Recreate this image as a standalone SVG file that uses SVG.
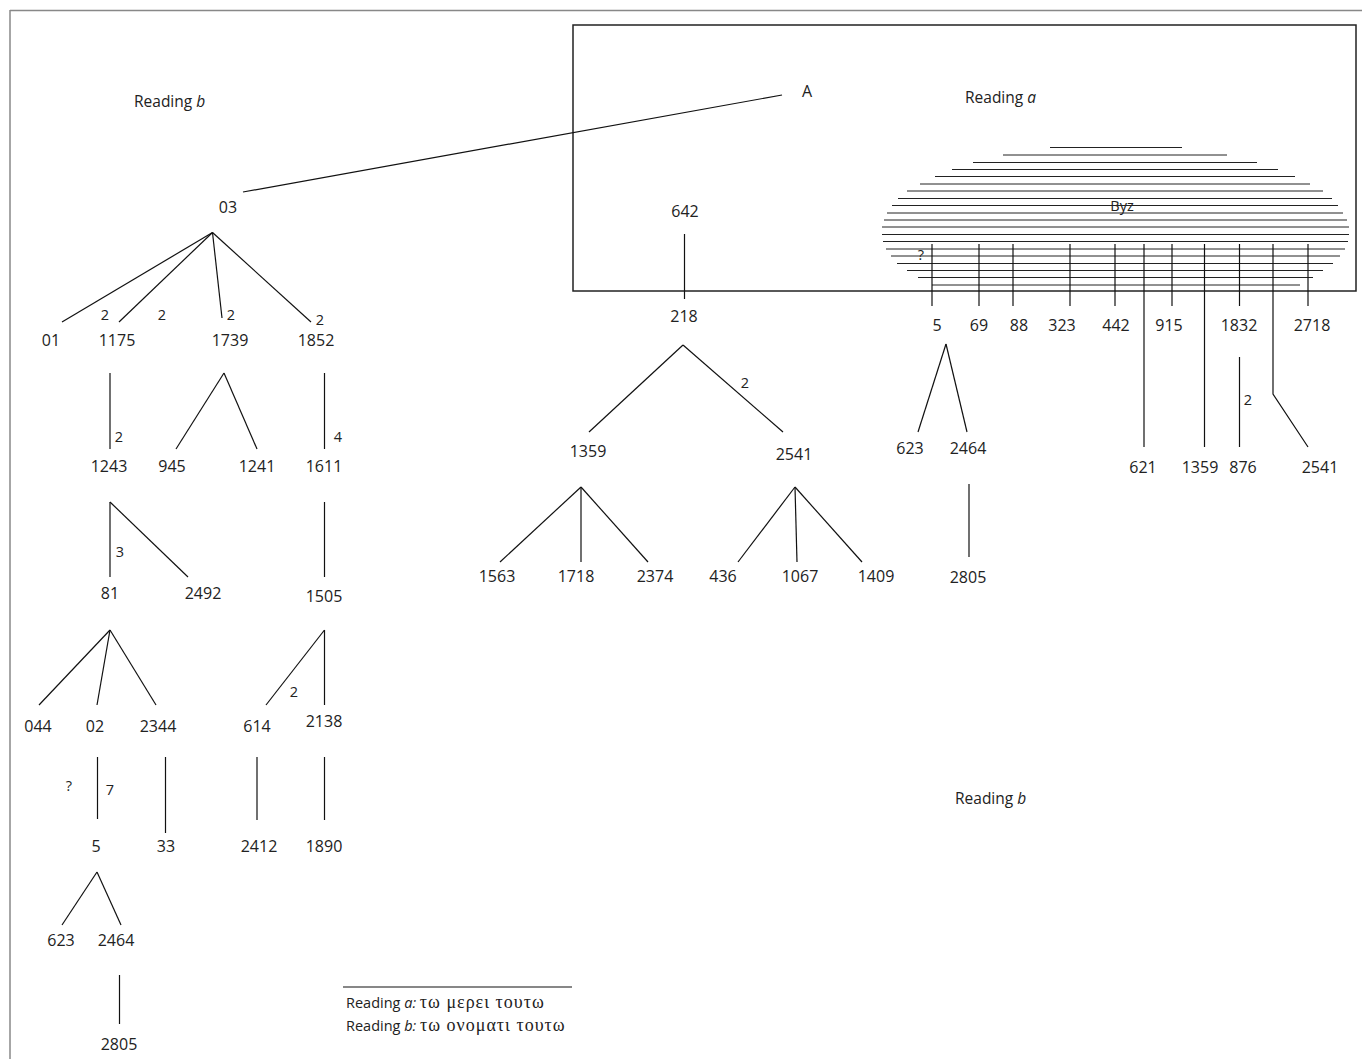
<svg xmlns="http://www.w3.org/2000/svg" width="1362" height="1059" viewBox="0 0 1362 1059">
<style>
  text { font-family: "Open Sans", "Liberation Sans", sans-serif; fill: #222; }
  .n { font-size: 16px; text-anchor: middle; }
  .e { font-size: 14.5px; text-anchor: middle; }
  .r { font-size: 15.5px; }
  .lg { font-size: 14.5px; }
  .gk { font-family: "Liberation Serif", "DejaVu Serif", serif; font-size: 18px; letter-spacing: 1px; }
  #connectors line, #connectors polyline { stroke: #111; stroke-width: 1.2; fill: none; }
  #hatch line { stroke: #222; stroke-width: 1; }
</style>
<rect width="1362" height="1059" fill="#fff"/>
<g id="frame">
  <line x1="10" y1="10.5" x2="1362" y2="10.5" stroke="#888" stroke-width="1.5"/>
  <line x1="10" y1="10" x2="10" y2="1059" stroke="#888" stroke-width="1.5"/>
  <rect x="573" y="25" width="783" height="266" fill="none" stroke="#222" stroke-width="1.5"/>
</g>
<g id="hatch">
  <line x1="1050" y1="147.5" x2="1182" y2="147.5"/>
  <line x1="1003" y1="155" x2="1227" y2="155"/>
  <line x1="973" y1="162.5" x2="1257" y2="162.5"/>
  <line x1="952" y1="169.5" x2="1278" y2="169.5"/>
  <line x1="935" y1="176.5" x2="1295" y2="176.5"/>
  <line x1="920" y1="184" x2="1310" y2="184"/>
  <line x1="907" y1="191" x2="1323" y2="191"/>
  <line x1="898" y1="198.5" x2="1332" y2="198.5"/>
  <line x1="892" y1="205.5" x2="1338" y2="205.5"/>
  <line x1="887" y1="213" x2="1343" y2="213"/>
  <line x1="884" y1="220" x2="1347" y2="220"/>
  <line x1="882" y1="227" x2="1349" y2="227"/>
  <line x1="882" y1="234.5" x2="1349" y2="234.5"/>
  <line x1="883" y1="241.5" x2="1348" y2="241.5"/>
  <line x1="886" y1="249" x2="1345" y2="249"/>
  <line x1="891" y1="256" x2="1340" y2="256"/>
  <line x1="897" y1="263.5" x2="1333" y2="263.5"/>
  <line x1="907" y1="270.5" x2="1323" y2="270.5"/>
  <line x1="918" y1="277.5" x2="1313" y2="277.5"/>
  <line x1="932" y1="285" x2="1300" y2="285"/>
</g>
<g id="connectors">
  <line x1="243" y1="192" x2="782" y2="95"/>
  <line x1="212.5" y1="232.5" x2="62" y2="322"/>
  <line x1="212.5" y1="232.5" x2="119" y2="322"/>
  <line x1="212.5" y1="232.5" x2="222" y2="318"/>
  <line x1="212.5" y1="232.5" x2="311" y2="322"/>
  <line x1="110" y1="373" x2="110" y2="449"/>
  <line x1="224" y1="373" x2="176" y2="449"/>
  <line x1="224" y1="373" x2="257" y2="449"/>
  <line x1="324.5" y1="373" x2="324.5" y2="449"/>
  <line x1="110" y1="502" x2="110" y2="577"/>
  <line x1="110" y1="502" x2="188" y2="577"/>
  <line x1="324.5" y1="502" x2="324.5" y2="577"/>
  <line x1="110" y1="630" x2="39" y2="705"/>
  <line x1="110" y1="630" x2="97" y2="705"/>
  <line x1="110" y1="630" x2="156" y2="705"/>
  <line x1="324.5" y1="630" x2="266" y2="705"/>
  <line x1="324.5" y1="630" x2="324.5" y2="705"/>
  <line x1="97.5" y1="757" x2="97.5" y2="819"/>
  <line x1="165.5" y1="757" x2="165.5" y2="833"/>
  <line x1="257" y1="757" x2="257" y2="820"/>
  <line x1="324.5" y1="757" x2="324.5" y2="820"/>
  <line x1="97" y1="872" x2="62" y2="925"/>
  <line x1="97" y1="872" x2="121" y2="925"/>
  <line x1="119.5" y1="975" x2="119.5" y2="1024"/>
  <line x1="684.5" y1="234" x2="684.5" y2="299"/>
  <line x1="683" y1="345" x2="589" y2="432"/>
  <line x1="683" y1="345" x2="783" y2="432"/>
  <line x1="581" y1="487" x2="500" y2="562"/>
  <line x1="581" y1="487" x2="581" y2="562"/>
  <line x1="581" y1="487" x2="648" y2="562"/>
  <line x1="795" y1="487" x2="738" y2="562"/>
  <line x1="795" y1="487" x2="797" y2="562"/>
  <line x1="795" y1="487" x2="862" y2="562"/>
  <line x1="932" y1="244" x2="932" y2="306"/>
  <line x1="979" y1="244" x2="979" y2="306"/>
  <line x1="1013" y1="244" x2="1013" y2="306"/>
  <line x1="1070" y1="244" x2="1070" y2="306"/>
  <line x1="1115" y1="244" x2="1115" y2="306"/>
  <line x1="1144" y1="244" x2="1144" y2="447"/>
  <line x1="1172" y1="244" x2="1172" y2="306"/>
  <line x1="1204.5" y1="244" x2="1204.5" y2="447"/>
  <line x1="1239.5" y1="244" x2="1239.5" y2="306"/>
  <polyline points="1273,244 1273,394 1308,447"/>
  <line x1="1308" y1="244" x2="1308" y2="306"/>
  <line x1="1239.5" y1="357" x2="1239.5" y2="447"/>
  <line x1="946" y1="344" x2="918" y2="432"/>
  <line x1="946" y1="344" x2="967" y2="432"/>
  <line x1="969" y1="484" x2="969" y2="557"/>
  <line x1="343" y1="987" x2="572" y2="987"/>
</g>
<g id="edge-labels">
  <text class="e" x="105" y="320">2</text>
  <text class="e" x="162" y="320">2</text>
  <text class="e" x="231" y="320">2</text>
  <text class="e" x="320" y="325">2</text>
  <text class="e" x="119" y="442">2</text>
  <text class="e" x="338" y="442">4</text>
  <text class="e" x="120" y="557">3</text>
  <text class="e" x="294" y="697">2</text>
  <text class="e" x="69" y="791">?</text>
  <text class="e" x="110" y="795">7</text>
  <text class="e" x="745" y="388">2</text>
  <text class="e" x="1248" y="405">2</text>
  <text class="e" x="921" y="260">?</text>
</g>
<g id="labels">
  <text class="r" x="134" y="107">Reading <tspan font-style="italic">b</tspan></text>
  <text class="r" x="965" y="103">Reading <tspan font-style="italic">a</tspan></text>
  <text class="r" x="955" y="804">Reading <tspan font-style="italic">b</tspan></text>
</g>
<g id="node-A"><text class="n" x="807" y="97">A</text></g>
<g id="node-Byz"><text class="e" x="1122" y="211">Byz</text></g>
<g id="node-03"><text class="n" x="228" y="213">03</text></g>
<g id="node-01"><text class="n" x="51" y="346">01</text></g>
<g id="node-1175"><text class="n" x="117" y="346">1175</text></g>
<g id="node-1739"><text class="n" x="230" y="346">1739</text></g>
<g id="node-1852"><text class="n" x="316" y="346">1852</text></g>
<g id="node-1243"><text class="n" x="109" y="472">1243</text></g>
<g id="node-945"><text class="n" x="172" y="472">945</text></g>
<g id="node-1241"><text class="n" x="257" y="472">1241</text></g>
<g id="node-1611"><text class="n" x="324" y="472">1611</text></g>
<g id="node-81"><text class="n" x="110" y="599">81</text></g>
<g id="node-2492"><text class="n" x="203" y="599">2492</text></g>
<g id="node-1505"><text class="n" x="324" y="602">1505</text></g>
<g id="node-044"><text class="n" x="38" y="732">044</text></g>
<g id="node-02"><text class="n" x="95" y="732">02</text></g>
<g id="node-2344"><text class="n" x="158" y="732">2344</text></g>
<g id="node-614"><text class="n" x="257" y="732">614</text></g>
<g id="node-2138"><text class="n" x="324" y="727">2138</text></g>
<g id="node-5a"><text class="n" x="96" y="852">5</text></g>
<g id="node-33"><text class="n" x="166" y="852">33</text></g>
<g id="node-2412"><text class="n" x="259" y="852">2412</text></g>
<g id="node-1890"><text class="n" x="324" y="852">1890</text></g>
<g id="node-623a"><text class="n" x="61" y="946">623</text></g>
<g id="node-2464a"><text class="n" x="116" y="946">2464</text></g>
<g id="node-2805a"><text class="n" x="119" y="1050">2805</text></g>
<g id="node-642"><text class="n" x="685" y="217">642</text></g>
<g id="node-218"><text class="n" x="684" y="322">218</text></g>
<g id="node-1359a"><text class="n" x="588" y="457">1359</text></g>
<g id="node-2541a"><text class="n" x="794" y="460">2541</text></g>
<g id="node-1563"><text class="n" x="497" y="582">1563</text></g>
<g id="node-1718"><text class="n" x="576" y="582">1718</text></g>
<g id="node-2374"><text class="n" x="655" y="582">2374</text></g>
<g id="node-436"><text class="n" x="723" y="582">436</text></g>
<g id="node-1067"><text class="n" x="800" y="582">1067</text></g>
<g id="node-1409"><text class="n" x="876" y="582">1409</text></g>
<g id="node-5b"><text class="n" x="937" y="331">5</text></g>
<g id="node-69"><text class="n" x="979" y="331">69</text></g>
<g id="node-88"><text class="n" x="1019" y="331">88</text></g>
<g id="node-323"><text class="n" x="1062" y="331">323</text></g>
<g id="node-442"><text class="n" x="1116" y="331">442</text></g>
<g id="node-915"><text class="n" x="1169" y="331">915</text></g>
<g id="node-1832"><text class="n" x="1239" y="331">1832</text></g>
<g id="node-2718"><text class="n" x="1312" y="331">2718</text></g>
<g id="node-623b"><text class="n" x="910" y="454">623</text></g>
<g id="node-2464b"><text class="n" x="968" y="454">2464</text></g>
<g id="node-2805b"><text class="n" x="968" y="583">2805</text></g>
<g id="node-621"><text class="n" x="1143" y="473">621</text></g>
<g id="node-1359b"><text class="n" x="1200" y="473">1359</text></g>
<g id="node-876"><text class="n" x="1243" y="473">876</text></g>
<g id="node-2541b"><text class="n" x="1320" y="473">2541</text></g>
<g id="legend">
  <text class="lg" x="346" y="1008">Reading <tspan font-style="italic">a:</tspan> <tspan class="gk">τω μερει τουτω</tspan></text>
  <text class="lg" x="346" y="1031">Reading <tspan font-style="italic">b:</tspan> <tspan class="gk">τω ονοματι τουτω</tspan></text>
</g>
</svg>
